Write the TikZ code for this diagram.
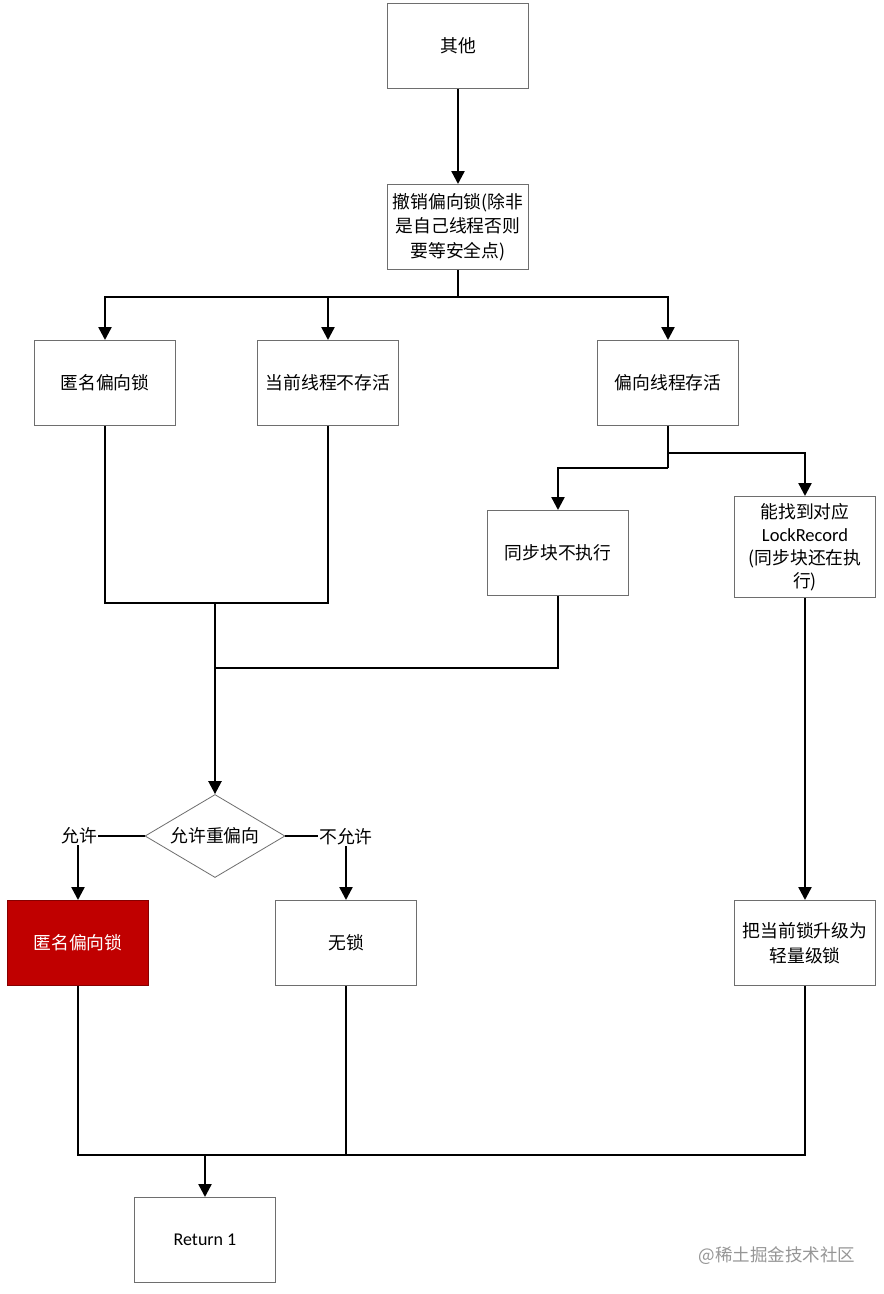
\documentclass[tikz,border=0pt]{standalone}
\usepackage{fontspec}
\usepackage{xcolor}
\usepackage{tikz}
\usetikzlibrary{shapes.geometric,arrows.meta}
\setmainfont{Noto Sans CJK SC}
\newfontfamily\latinfont{Carlito}
\definecolor{boxgray}{RGB}{110,110,110}
\definecolor{lockred}{RGB}{192,0,0}
\definecolor{markgray}{RGB}{150,150,150}
\tikzset{
  stepbox/.style={draw=boxgray,line width=1pt,minimum width=141pt,minimum height=85pt,
    align=center,inner sep=0pt,font=\fontsize{17.8}{24.5}\selectfont},
  link/.style={line width=2.4pt,line join=miter},
  arr/.style={link,-{Triangle[width=13pt,length=13pt]}},
  tag/.style={inner sep=1pt,font=\fontsize{17.8}{20}\selectfont}
}

\begin{document}
\begin{tikzpicture}[x=1pt,y=-1pt]
\useasboundingbox[fill=white] (0,0) rectangle (884,1294);

% top
\node[stepbox] (qita) at (458,46) {其他};
\node[stepbox] (chexiao) at (458,227) {撤销偏向锁(除非\\是自己线程否则\\要等安全点)};

% second row
\node[stepbox] (nm1) at (105,383) {匿名偏向锁};
\node[stepbox] (dead) at (328,383) {当前线程不存活};
\node[stepbox] (alive) at (668,383) {偏向线程存活};

% third row
\node[stepbox] (noexec) at (558,553) {同步块不执行};
\node[stepbox,minimum height=101pt,font=\fontsize{17.8}{23}\selectfont] (lockrec) at (805,547)
  {能找到对应\\{\latinfont\fontsize{18.5}{23}\selectfont LockRecord}\\(同步块还在执\\行)};

% decision
\node[draw=boxgray,line width=0.8pt,diamond,aspect=1.7,minimum width=140pt,minimum height=83pt,
  inner sep=0pt,font=\fontsize{17.8}{20}\selectfont] (rebias) at (215,836) {允许重偏向};
\node[tag] (yes) at (79,836) {允许};
\node[tag] (no) at (346,837) {不允许};

% results
\node[stepbox,fill=lockred,draw=lockred!70!black,text=white] (nm2) at (78,943) {匿名偏向锁};
\node[stepbox] (nolock) at (346,943) {无锁};
\node[stepbox] (light) at (805,943) {把当前锁升级为\\轻量级锁};
\node[stepbox,font=\latinfont\fontsize{18}{20}\selectfont] (ret) at (205,1240) {Return 1};

% connectors
\coordinate (bus1) at (458,297);
\coordinate (bus2) at (668,453);
\coordinate (bus3) at (668,468);
\coordinate (join1) at (215,603);
\coordinate (join2) at (215,668);
\coordinate (bus4) at (205,1155);

\draw[arr] (qita) -- (chexiao);
\draw[link] (chexiao.south) -- (bus1);
\draw[arr] (bus1) -| (nm1);
\draw[arr] (bus1) -| (dead);
\draw[arr] (bus1) -| (alive);

\draw[link] (alive.south) -- (bus3);
\draw[arr] (bus2) -| (lockrec);
\draw[arr] (bus3) -| (noexec);

\draw[link] (nm1.south) |- (join1) -| (dead.south);
\draw[link] (noexec.south) |- (join2);
\draw[arr] (join1) -- (rebias.north);

\draw[link,line width=1.6pt] (rebias.west) -- (rebias.west -| yes.east);
\draw[link,line width=1.6pt] (rebias.east) -- (rebias.east -| no.west);
\draw[arr] (yes.south -| nm2.north) -- (nm2.north);
\draw[arr] (no.south) -- (nolock.north);
\draw[arr] (lockrec.south) -- (light.north);

\draw[link] (nm2.south) |- (bus4) -| (light.south);
\draw[link] (nolock.south) -- (nolock.south |- bus4);
\draw[arr] (bus4) -- (ret.north);

% watermark
\node[text=markgray,inner sep=0pt,font=\fontsize{17.5}{20}\selectfont] (mark) at (777,1256) {@稀土掘金技术社区};

\end{tikzpicture}
\end{document}
